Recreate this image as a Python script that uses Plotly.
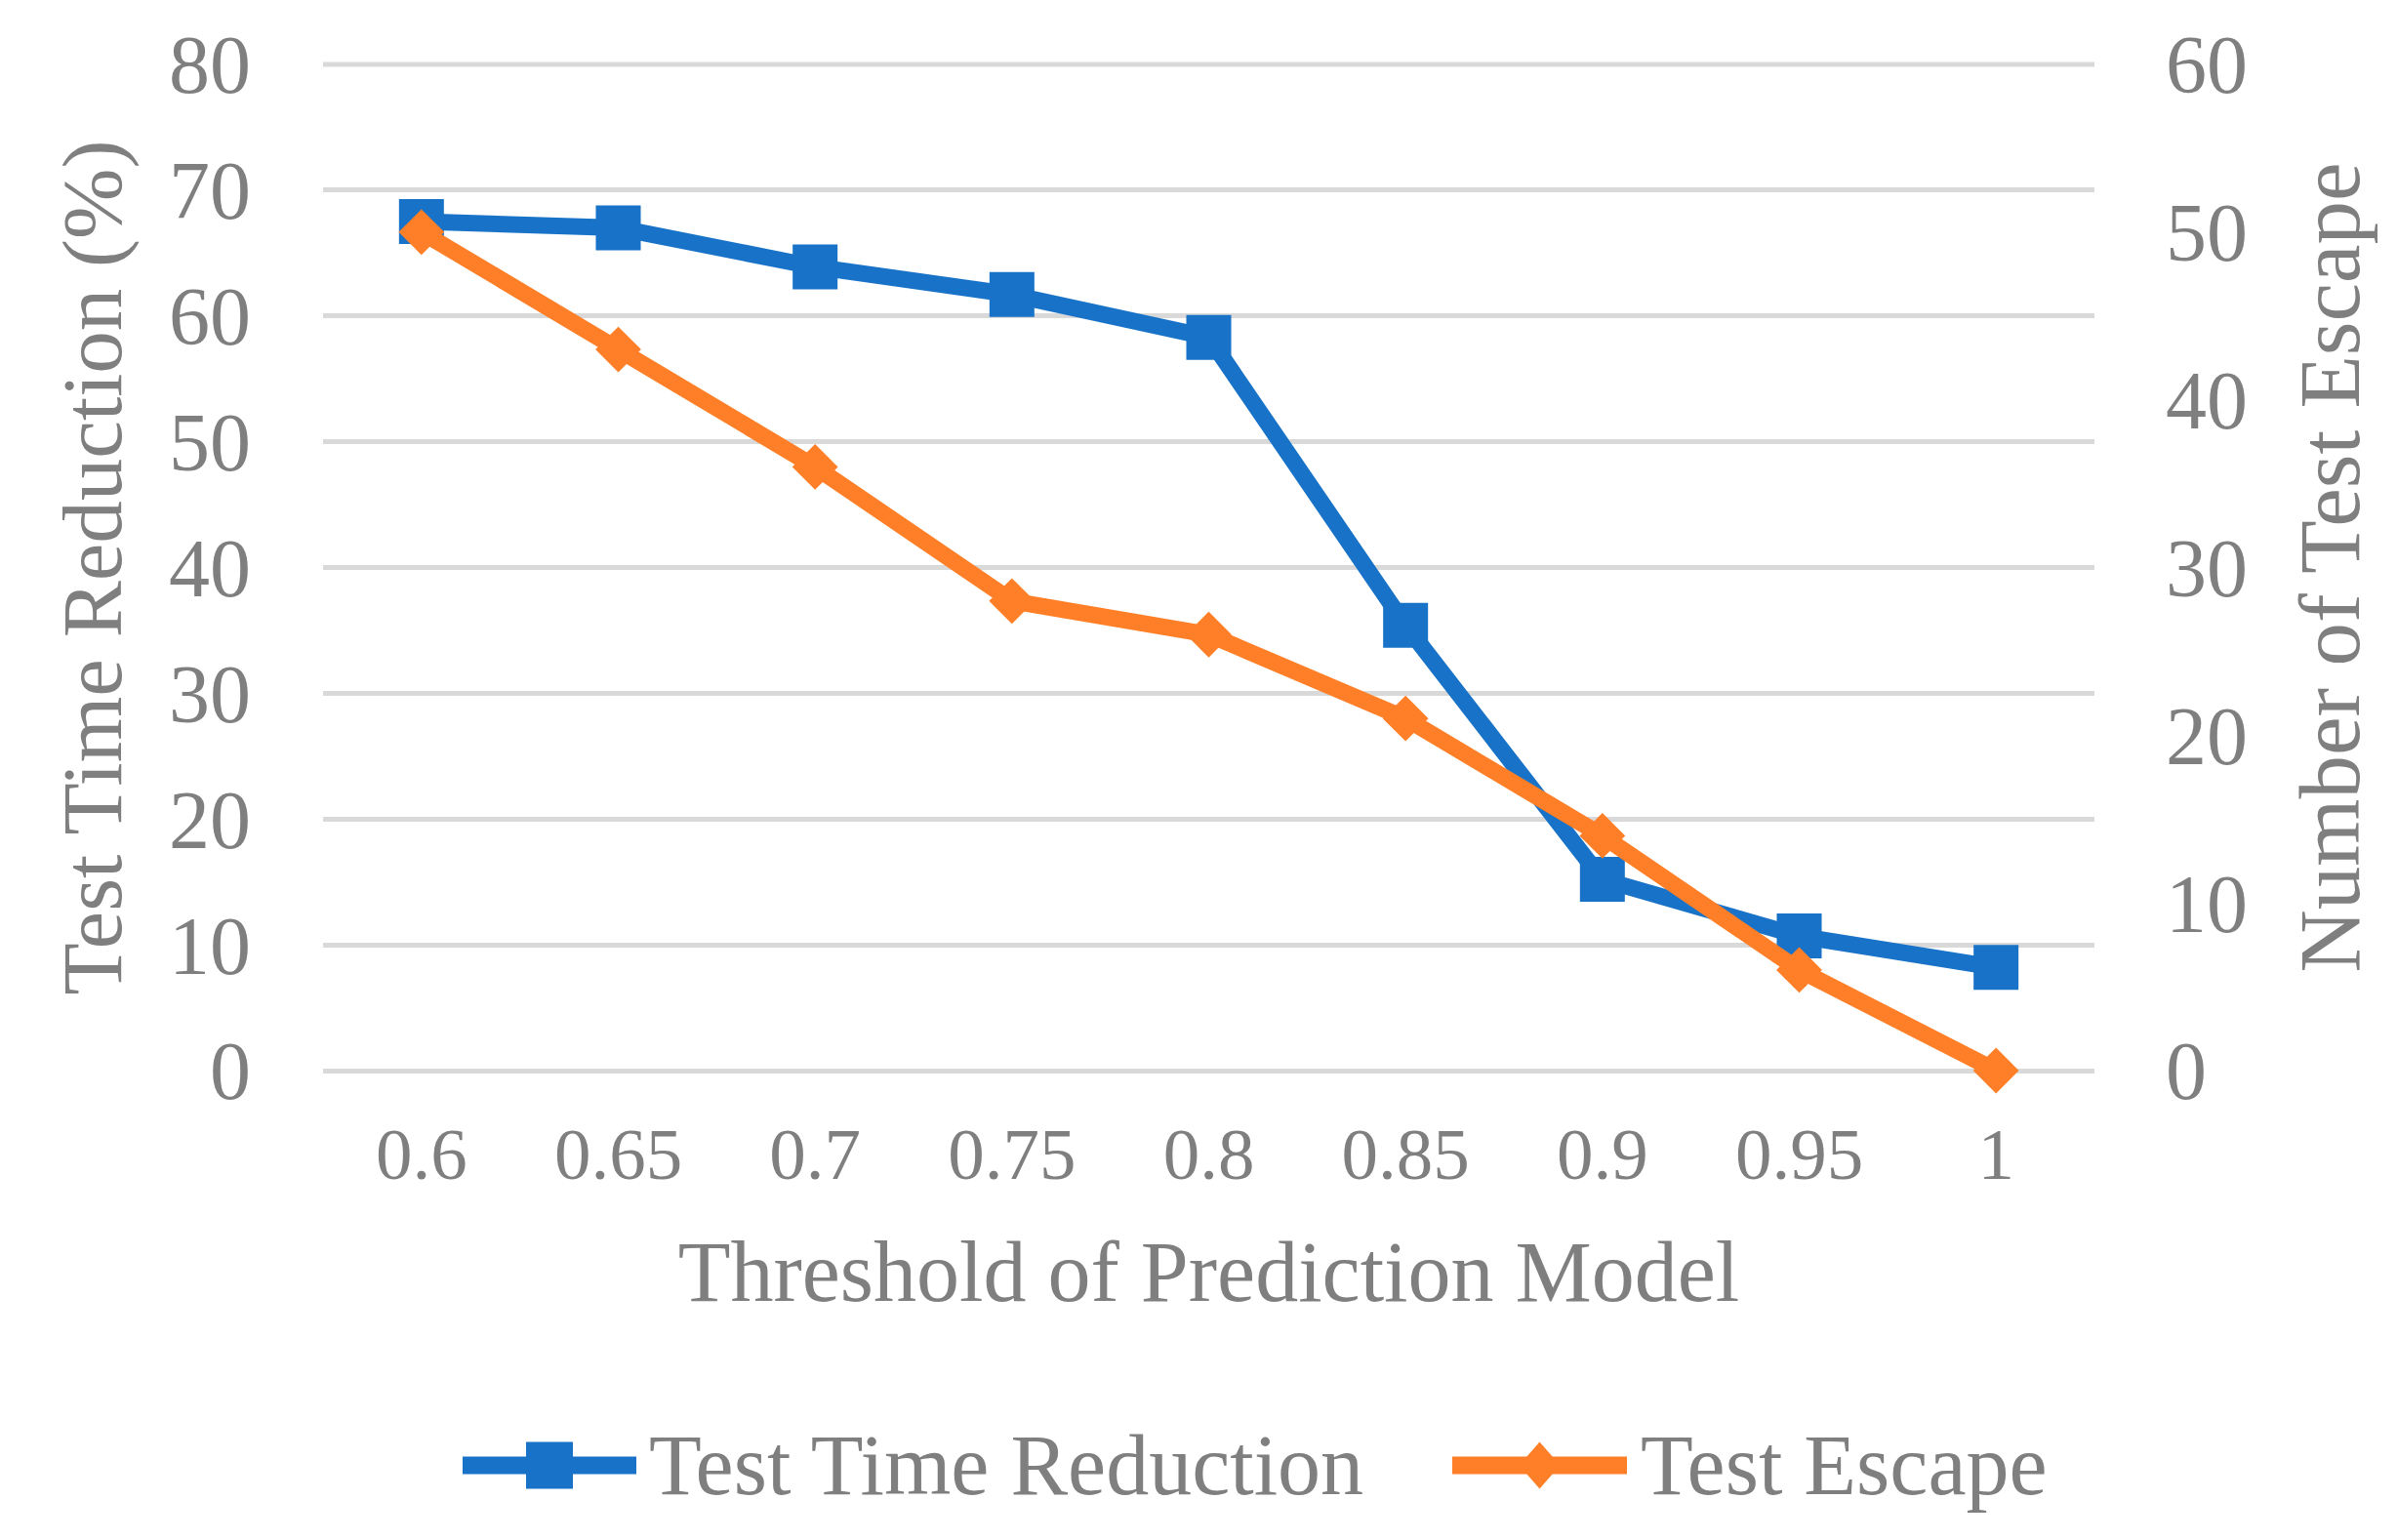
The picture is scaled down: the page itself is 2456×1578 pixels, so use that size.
import plotly.graph_objects as go

thresholds = ["0.6", "0.65", "0.7", "0.75", "0.8", "0.85", "0.9", "0.95", "1"]
test_time_reduction = [67.5, 67.0, 63.9, 61.7, 58.3, 35.4, 15.2, 10.7, 8.2]
test_escape = [50, 43, 36, 28, 26, 21, 14, 6, 0]

series_names = ["Test Time Reduction", "Test Escape"]
x_title = "Threshold of Prediction Model"
y_title = "Test Time Reduction (%)"
y2_title = "Number of Test Escape"
y_max, y2_max = 80, 60

BLUE = "#1873C8"
ORANGE = "#FE7F27"
GRAY = "#7F7F7F"
GRID = "#D9D9D9"
FONT = "Liberation Serif, Times New Roman, serif"

OFF = 8  # default page body margin
W, H = 2456, 1578
L, R, T, B = 331 - OFF, 2456 - 2146 + OFF, 62 - OFF, 1578 - 1097 + OFF
PW, PH = W - L - R, H - T - B

fig = go.Figure()
fig.add_trace(go.Scatter(
    x=thresholds, y=test_time_reduction, name=series_names[0],
    mode="lines+markers", line=dict(color=BLUE, width=17),
    marker=dict(symbol="square", size=46, color=BLUE),
    cliponaxis=False, showlegend=False, yaxis="y"))
fig.add_trace(go.Scatter(
    x=thresholds, y=test_escape, name=series_names[1],
    mode="lines+markers", line=dict(color=ORANGE, width=17),
    marker=dict(symbol="diamond", size=36, color=ORANGE),
    cliponaxis=False, showlegend=False, yaxis="y2"))


def px_x(p):
    return (p - OFF - L) / PW


def px_y(p):
    return (H - B - (p - OFF)) / PH


shapes = [
    # top gridline at the range maximum (plotly skips gridlines on the range edge)
    dict(type="line", xref="paper", yref="paper", x0=0, x1=1, y0=1, y1=1,
         line=dict(color=GRID, width=5), layer="below"),
]
annotations = []

# custom legend (large symbols like the original)
leg_y = px_y(1503)
legend_items = [
    (series_names[0], BLUE, 474, 652, 663, "square"),
    (series_names[1], ORANGE, 1488, 1667, 1679, "diamond"),
]
for name, col, x0, x1, tx, sym in legend_items:
    shapes.append(dict(type="line", xref="paper", yref="paper",
                       x0=px_x(x0), x1=px_x(x1), y0=leg_y, y1=leg_y,
                       line=dict(color=col, width=18)))
    cx = px_x((x0 + x1) / 2)
    if sym == "square":
        shapes.append(dict(type="rect", xref="paper", yref="paper",
                           xsizemode="pixel", ysizemode="pixel",
                           xanchor=cx, yanchor=leg_y,
                           x0=-24, x1=24, y0=-24, y1=24,
                           fillcolor=col, line=dict(width=0)))
    else:
        shapes.append(dict(type="path", xref="paper", yref="paper",
                           xsizemode="pixel", ysizemode="pixel",
                           xanchor=cx, yanchor=leg_y,
                           path="M0,24 L21,0 L0,-24 L-21,0 Z",
                           fillcolor=col, line=dict(width=0)))
    annotations.append(dict(text=name, xref="paper", yref="paper",
                            x=px_x(tx), y=leg_y, xanchor="left", yanchor="middle",
                            showarrow=False, font=dict(family=FONT, size=88, color=GRAY)))

fig.update_layout(
    width=W, height=H,
    margin=dict(l=L, r=R, t=T, b=B),
    paper_bgcolor="white", plot_bgcolor="white",
    font=dict(family=FONT, color=GRAY),
    showlegend=False,
    xaxis=dict(type="category", range=[-0.5, 8.5], showgrid=False, showline=False,
               zeroline=False, ticks="", tickfont=dict(size=75, color=GRAY),
               ticklabelstandoff=35,
               title=dict(text=x_title, font=dict(size=88, color=GRAY), standoff=48)),
    yaxis=dict(range=[0, y_max], tickvals=list(range(0, y_max + 1, 10)), showgrid=True,
               gridcolor=GRID, gridwidth=5,
               zeroline=True, zerolinecolor=GRID, zerolinewidth=5, showline=False,
               ticks="", tickfont=dict(size=84, color=GRAY), ticklabelstandoff=73,
               title=dict(text=y_title, font=dict(size=87, color=GRAY), standoff=19)),
    yaxis2=dict(range=[0, y2_max], tickvals=list(range(0, y2_max + 1, 10)), overlaying="y",
                side="right", showgrid=False,
                zeroline=False, showline=False, ticks="",
                tickfont=dict(size=84, color=GRAY), ticklabelstandoff=72,
                title=dict(text=y2_title, font=dict(size=89, color=GRAY), standoff=52)),
    shapes=shapes,
    annotations=annotations,
)

fig.write_html("out.html")
